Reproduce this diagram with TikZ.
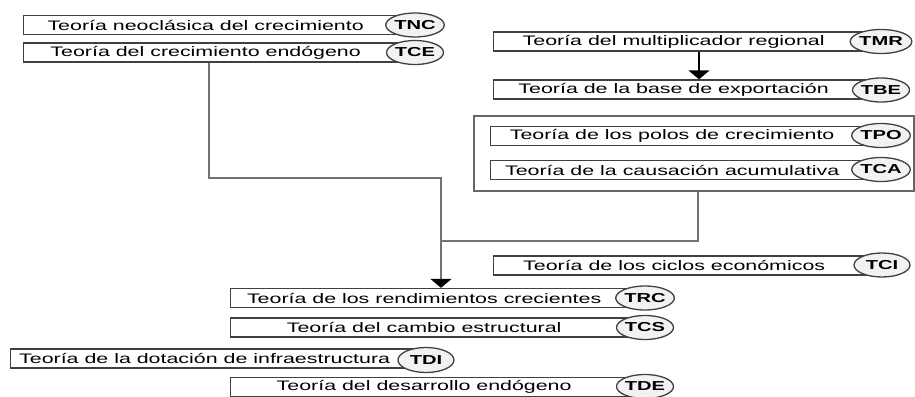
\documentclass[tikz,border=0pt]{standalone}
\usepackage{fontspec}
\setmainfont{Liberation Sans}
\newfontfamily\thfont{Liberation Sans}[FakeStretch=1.55]
\usetikzlibrary{shapes.geometric,arrows.meta}
\newcommand{\tx}[1]{#1\hspace*{28pt}}
\begin{document}
\begin{tikzpicture}[x=1pt,y=-1pt,
  tbox/.style={draw=black!75, line width=1.3pt, minimum height=19pt, inner xsep=0pt, inner ysep=0pt, anchor=west, font=\thfont\fontsize{13.8}{15}\selectfont},
  oval/.style={ellipse, draw=black!75, line width=1.3pt, fill=black!5, minimum width=56pt, minimum height=24pt, inner sep=0pt, font=\thfont\bfseries\fontsize{13}{14}\selectfont},
  grpbox/.style={draw=black!60, line width=1.8pt, anchor=north west, inner sep=0pt},
  conn/.style={draw=black!55, line width=1.8pt},
  arr/.style={-{Triangle[width=21pt,length=9pt,color=black]}}]
\useasboundingbox (0,0) rectangle (915,396);

% group container
\node[grpbox, minimum width=440pt, minimum height=75pt] (grp) at (473,115) {};

% theory boxes
\node[tbox, minimum width=392pt] (tnc) at (23,25) {\tx{Teoría neoclásica del crecimiento}};
\node[tbox, minimum width=392pt] (tce) at (23,52.5) {\tx{Teoría del crecimiento endógeno}};
\node[tbox, minimum width=388pt] (tmr) at (493,41.5) {\tx{Teoría del multiplicador regional}};
\node[tbox, minimum width=388pt] (tbe) at (493,89.5) {\tx{Teoría de la base de exportación}};
\node[tbox, minimum width=391pt] (tpo) at (490,136) {\tx{Teoría de los polos de crecimiento}};
\node[tbox, minimum width=391pt] (tca) at (490,170) {\tx{Teoría de la causación acumulativa}};
\node[tbox, minimum width=389pt] (tci) at (493,265.5) {\tx{Teoría de los ciclos económicos}};
\node[tbox, minimum width=415pt] (trc) at (230,298) {\tx{Teoría de los rendimientos crecientes}};
\node[tbox, minimum width=415pt] (tcs) at (230,327.5) {\tx{Teoría del cambio estructural}};
\node[tbox, minimum width=416pt] (tdi) at (10,358.5) {\tx{Teoría de la dotación de infraestructura}};
\node[tbox, minimum width=415pt] (tde) at (230,387) {\tx{Teoría del desarrollo endógeno}};

% acronym ovals
\node[oval] (tnc-l) at (415,25) {TNC};
\node[oval] (tce-l) at (415,52.5) {TCE};
\node[oval] (tmr-l) at (881,41.5) {TMR};
\node[oval] (tbe-l) at (881,90) {TBE};
\node[oval] (tpo-l) at (881,135.5) {TPO};
\node[oval] (tca-l) at (881,169.5) {TCA};
\node[oval] (tci-l) at (882,265) {TCI};
\node[oval] (trc-l) at (645,298) {TRC};
\node[oval] (tcs-l) at (645,327.5) {TCS};
\node[oval, minimum height=25pt] (tdi-l) at (426,360) {TDI};
\node[oval] (tde-l) at (645,386.5) {TDE};

% connectors
\coordinate (a1) at (209,178);
\coordinate (a2) at (441,178);
\coordinate (a3) at (441,241);
\coordinate (a4) at (698,241);
\coordinate (a5) at (699,0);

\draw[conn, arr] (tce.south -| a1) -- (a1) -- (a2) -- (trc.north -| a2);
\draw[conn] (grp.south -| a4) -- (a4) -- (a3);
\draw[draw=black, line width=1.6pt, arr] (tmr.south -| a5) -- (tbe.north -| a5);
\end{tikzpicture}
\end{document}
